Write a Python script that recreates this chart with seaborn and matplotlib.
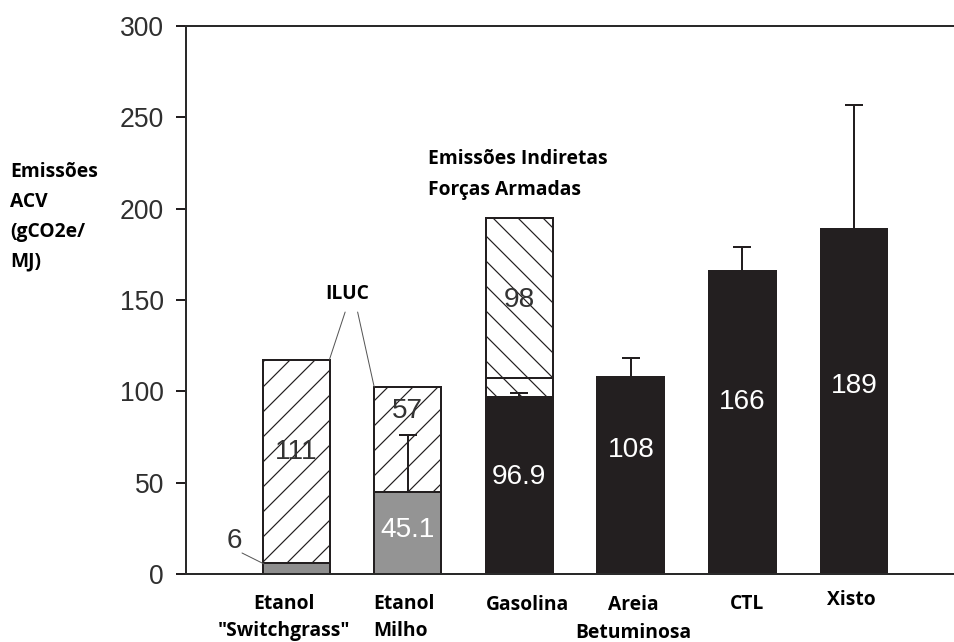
import matplotlib
matplotlib.use("Agg")
import matplotlib.pyplot as plt
import seaborn as sns
import pandas as pd
import numpy as np

# ---------------- data ----------------
categories = ["Etanol\n\"Switchgrass\"", "Etanol\nMilho", "Gasolina",
              "Areia\nBetuminosa", "CTL", "Xisto"]
direct = [6, 45.1, 96.9, 108, 166, 189]          # solid part
indirect = [111, 57, 98, 0, 0, 0]                # hatched part (ILUC / indirect)
gas_lower_indirect = [0, 0, 10.6, 0, 0, 0]       # lower sub-segment of gasoline indirect
err_upper = [0, 31, 2, 10, 13, 68]
direct_labels = ["6", "45.1", "96.9", "108", "166", "189"]
indirect_labels = ["111", "57", "98", "", "", ""]
yticks = [0, 50, 100, 150, 200, 250, 300]

fill_colors = ["#8e8e8e", "#949494", "#231f20", "#231f20", "#231f20", "#231f20"]
hatch_dirs = ["//", "//", "\\\\", "", "", ""]
dlabel_colors = ["#333333", "white", "white", "white", "white", "white"]

# label placement (layout only)
direct_label_y = [None, 24, 53, 68, 94, 103]
indirect_label_y = [67, 89, 150, None, None, None]

# ---------------- style ----------------
DPI = 150
PX = 72.0 / DPI   # points per pixel
sns.set_style("ticks")
plt.rcParams["font.family"] = ["Liberation Sans", "DejaVu Sans"]
plt.rcParams["hatch.linewidth"] = 1.2 * PX
EDGE = "#231f20"
BOLD_FONT = ["Open Sans", "DejaVu Sans"]

fig = plt.figure(figsize=(955 / DPI, 642 / DPI), dpi=DPI)
ax = fig.add_axes([186 / 955, (642 - 574) / 642, 1 - 186 / 955, (574 - 26) / 642])

keys = [f"c{i}" for i in range(len(categories))]
df = pd.DataFrame({
    "cat": keys,
    "total": np.array(direct) + np.array(indirect),
    "mid": np.array(direct) + np.array(gas_lower_indirect),
    "direct": direct,
})

def layer(col, colors, hatches):
    n0 = len(ax.patches)
    sns.barplot(data=df, x="cat", y=col, hue="cat", palette=colors, order=keys,
                hue_order=keys, width=0.6, saturation=1, legend=False,
                edgecolor=EDGE, linewidth=2 * PX, ax=ax, errorbar=None)
    for p, h in zip(ax.patches[n0:], hatches):
        if h:
            p.set_hatch(h)
        p.set_edgecolor(EDGE)

layer("total", ["white"] * 6, hatch_dirs)
layer("mid", ["white"] * 6, hatch_dirs)
layer("direct", fill_colors, [""] * 6)

# error bars (upward only)
xs = np.arange(len(categories))
mask = np.array(err_upper) > 0
ax.errorbar(xs[mask], np.array(direct)[mask],
            yerr=[np.zeros(mask.sum()), np.array(err_upper)[mask]],
            fmt="none", ecolor=EDGE, elinewidth=2 * PX, capsize=9 * PX,
            capthick=2 * PX, zorder=5)

# value labels
LBL = 28 * PX
for i in range(len(categories)):
    if indirect_labels[i]:
        ax.text(i, indirect_label_y[i], indirect_labels[i],
                ha="center", va="center", fontsize=LBL, color="#333333", zorder=6)
    if direct_label_y[i] is not None:
        ax.text(i, direct_label_y[i], direct_labels[i], ha="center", va="center",
                fontsize=LBL, color=dlabel_colors[i], zorder=6)
# "6" label with leader line
ax.text(-0.556, 18, direct_labels[0], ha="center", va="center", fontsize=LBL,
        color="#333333")
ax.plot([-0.484, -0.287], [11.5, 5.5], color="#555555", lw=1 * PX)

# ILUC annotation
BF = 19.3 * PX
ax.text(0.457, 153.5, "ILUC", ha="center", va="center", fontsize=BF,
        fontweight="bold", family=BOLD_FONT, color="black")
ax.plot([0.44, 0.30], [143.4, 117.5], color="#555555", lw=1 * PX)
ax.plot([0.552, 0.70], [143.4, 102.5], color="#555555", lw=1 * PX)

# Indirect military emissions annotation
ax.text(1.185, 232.5, "Emissões Indiretas\nForças Armadas", ha="left", va="top",
        fontsize=BF, fontweight="bold", family=BOLD_FONT, color="black",
        linespacing=1.72)

# axes formatting
ax.set_xlim(-0.986, 5.905)
ax.set_ylim(0, 300)
ax.set_yticks(yticks)
ax.set_yticklabels([str(t) for t in yticks])
ax.tick_params(axis="y", direction="out", length=10 * PX, width=2 * PX,
               pad=12 * PX, labelsize=26.5 * PX, labelcolor="#2f2f2f", color=EDGE)
ax.set_xticks([])
ax.set_xlabel("")
ax.set_ylabel("")
for s in ["left", "top", "bottom"]:
    ax.spines[s].set_visible(True)
    ax.spines[s].set_linewidth(2 * PX)
    ax.spines[s].set_color("#2a2a2a")
ax.spines["right"].set_visible(False)

# category labels (manually placed like the original)
cat_dx = [-0.11, -0.31, 0.07, 0.02, 0.045, -0.02]
cat_ha = ["center", "left", "center", "center", "center", "center"]
cat_top = [-0.036, -0.036, -0.039, -0.039, -0.036, -0.030]
trans = ax.get_xaxis_transform()
for i, c in enumerate(categories):
    ax.text(i + cat_dx[i], cat_top[i], c, transform=trans, ha=cat_ha[i], va="top",
            fontsize=BF, fontweight="bold", family=BOLD_FONT, color="black",
            linespacing=1.5, multialignment="center" if cat_ha[i] == "center" else "left")

# y-axis label
fig.text(10 / 955, 1 - 162 / 642, "Emissões\nACV\n(gCO2e/\nMJ)", ha="left", va="top",
         fontsize=BF, fontweight="bold", family=BOLD_FONT, color="black",
         linespacing=1.66)

fig.savefig("out.png", dpi=DPI)
